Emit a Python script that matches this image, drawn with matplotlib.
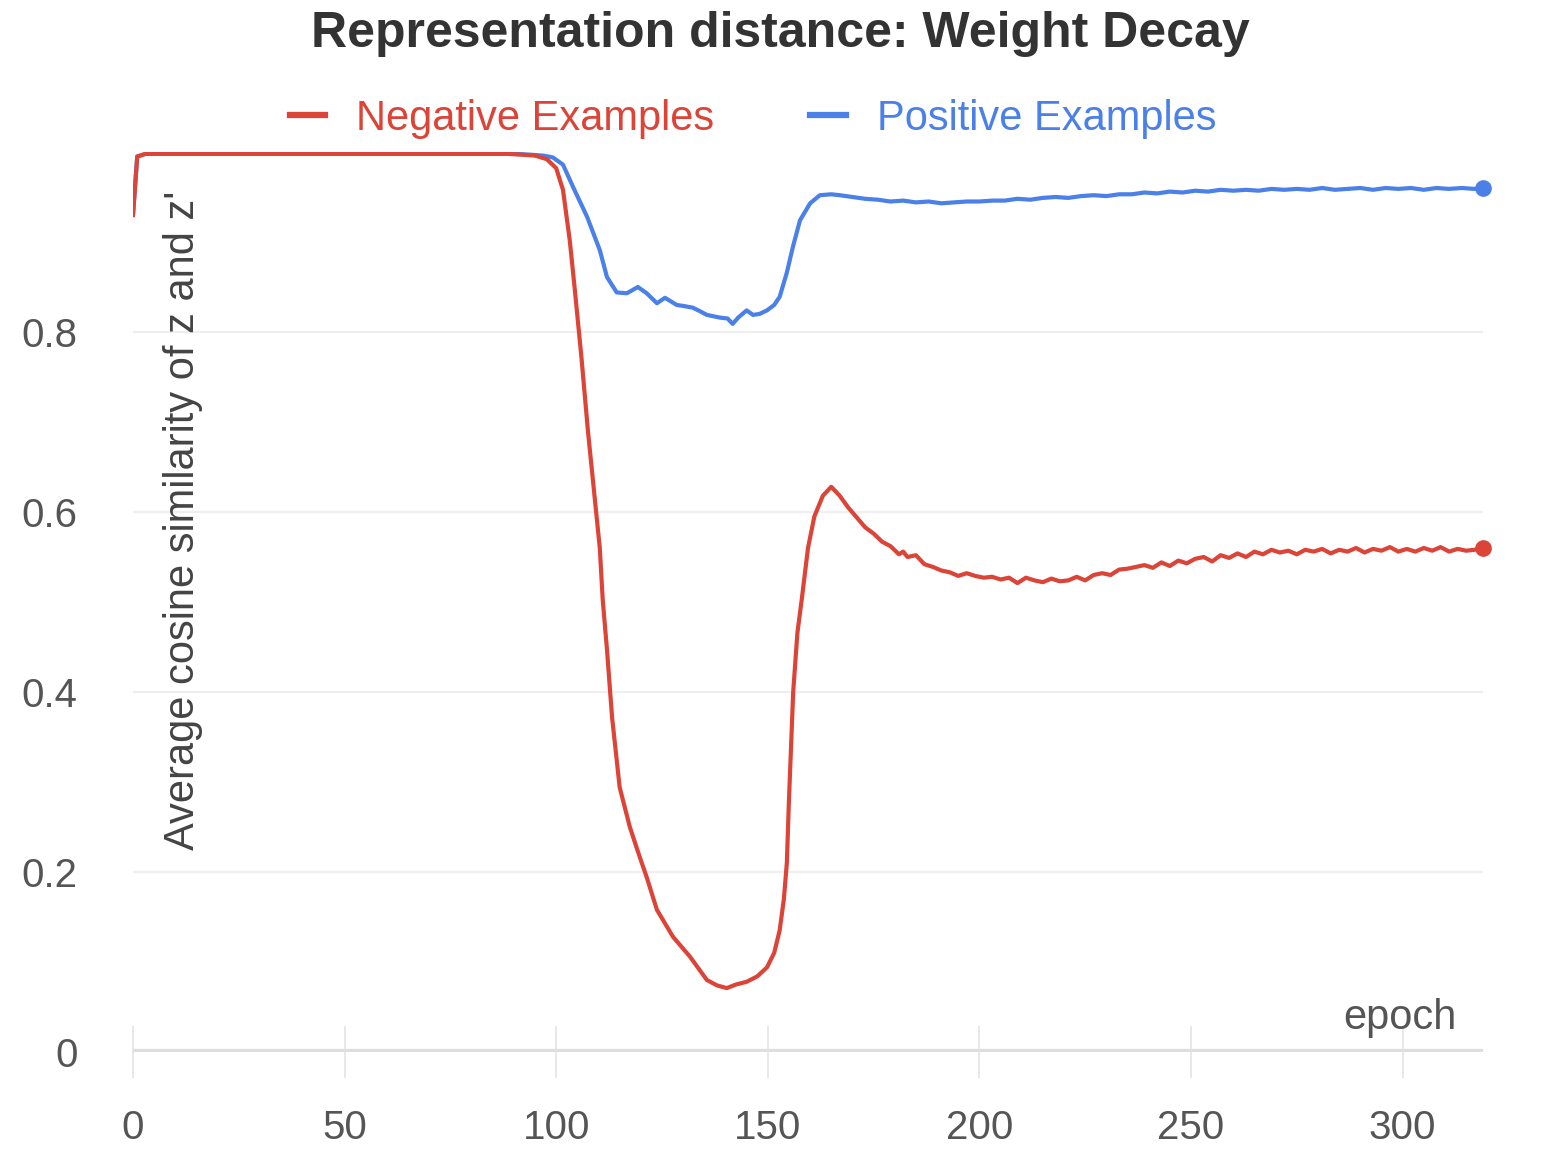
import numpy as np
import matplotlib
matplotlib.use('Agg')
import matplotlib.pyplot as plt

# values
neg_epoch = [0, 1, 3, 10, 20, 30, 40, 50, 60, 70, 80, 88, 92, 95, 97.8, 100,
             101.6, 103.2, 104.4, 106, 107.5, 109, 110.3, 111, 112, 113.2, 115,
             117.4, 119.5, 121.4, 123.8, 127.6, 131.6, 135.6, 138, 140.3, 142.5,
             145, 147.5, 149.8, 151.5, 152.8, 153.8, 154.5, 155, 155.5, 156, 157,
             158, 159.5, 161, 163, 165, 167, 169, 171, 173, 175, 177, 179, 181,
             182, 183, 185, 187, 189, 191, 193, 195, 197, 199, 201, 203, 205, 207,
             209, 211, 213, 215, 217, 219, 221, 223, 225, 227, 229, 231, 233, 235,
             237, 239, 241, 243, 245, 247, 249, 251, 253, 255, 257, 259, 261, 263,
             265, 267, 269, 271, 273, 275, 277, 279, 281, 283, 285, 287, 289, 291,
             293, 295, 297, 299, 301, 303, 305, 307, 309, 311, 313, 315, 317, 319]
neg_value = [0.93, 0.995, 0.998, 0.998, 0.998, 0.998, 0.998, 0.998, 0.998, 0.998,
             0.998, 0.998, 0.997, 0.996, 0.992, 0.982, 0.958, 0.902, 0.847, 0.77,
             0.69, 0.62, 0.56, 0.502, 0.447, 0.372, 0.294, 0.25, 0.22, 0.194,
             0.158, 0.128, 0.106, 0.08, 0.074, 0.071, 0.075, 0.078, 0.084, 0.094,
             0.11, 0.135, 0.17, 0.21, 0.28, 0.34, 0.40, 0.466, 0.502, 0.56, 0.595,
             0.618, 0.628, 0.618, 0.605, 0.594, 0.583, 0.576, 0.567, 0.562, 0.553,
             0.556, 0.55, 0.552, 0.542, 0.539, 0.535, 0.533, 0.529, 0.532, 0.529,
             0.527, 0.528, 0.525, 0.527, 0.521, 0.527, 0.524, 0.522, 0.526, 0.523,
             0.524, 0.528, 0.524, 0.53, 0.532, 0.53, 0.536, 0.537, 0.539, 0.541,
             0.538, 0.544, 0.54, 0.546, 0.543, 0.548, 0.55, 0.545, 0.552, 0.549,
             0.554, 0.55, 0.556, 0.553, 0.558, 0.555, 0.557, 0.553, 0.558, 0.556,
             0.559, 0.554, 0.558, 0.556, 0.56, 0.555, 0.559, 0.557, 0.561, 0.556,
             0.559, 0.556, 0.56, 0.557, 0.561, 0.556, 0.559, 0.557, 0.558, 0.56]

pos_epoch = [0, 1, 3, 10, 20, 30, 40, 50, 60, 70, 80, 90, 94, 97, 99.2, 101.6,
             104, 107.3, 110.3, 112, 114.3, 116.7, 119.3, 121.4, 123.8, 125.7,
             128.5, 130, 132.3, 134, 135.6, 138.7, 140.5, 141.7, 143, 145, 146.5,
             148, 149.8, 151.5, 152.8, 154.5, 155.9, 157.6, 160, 162.3, 165, 167,
             170, 173, 176, 179, 182, 185, 188, 191, 194, 197, 200, 203, 206, 209,
             212, 215, 218, 221, 224, 227, 230, 233, 236, 239, 242, 245, 248, 251,
             254, 257, 260, 263, 266, 269, 272, 275, 278, 281, 284, 287, 290, 293,
             296, 299, 302, 305, 308, 311, 314, 317, 319]
pos_value = [0.93, 0.995, 0.998, 0.998, 0.998, 0.998, 0.998, 0.998, 0.998, 0.998,
             0.998, 0.998, 0.997, 0.996, 0.994, 0.986, 0.961, 0.928, 0.891, 0.861,
             0.844, 0.843, 0.85, 0.843, 0.832, 0.838, 0.83, 0.829, 0.827, 0.823,
             0.819, 0.816, 0.815, 0.809, 0.816, 0.824, 0.819, 0.82, 0.824, 0.83,
             0.839, 0.866, 0.894, 0.924, 0.943, 0.952, 0.953, 0.952, 0.95, 0.948,
             0.947, 0.945, 0.946, 0.944, 0.945, 0.943, 0.944, 0.945, 0.945, 0.946,
             0.946, 0.948, 0.947, 0.949, 0.95, 0.949, 0.951, 0.952, 0.951, 0.953,
             0.953, 0.955, 0.954, 0.956, 0.955, 0.957, 0.956, 0.958, 0.957, 0.958,
             0.957, 0.959, 0.958, 0.959, 0.958, 0.96, 0.958, 0.959, 0.96, 0.958,
             0.96, 0.959, 0.96, 0.958, 0.96, 0.959, 0.96, 0.959, 0.96]

x_ticks = [0, 50, 100, 150, 200, 250, 300]
y_ticks = [0, 0.2, 0.4, 0.6, 0.8]
y_tick_labels = ['0', '0.2', '0.4', '0.6', '0.8']

red = '#db4437'
blue = '#4a80e8'

plt.rcParams.update({
    'font.family': ['Liberation Sans', 'DejaVu Sans'],
    'font.size': 29,
})

fig = plt.figure(figsize=(15.6, 11.66), dpi=100)
ax = fig.add_axes([133/1560, 1 - 1052/1166, 1350/1560, 900/1166])

for s in ax.spines.values():
    s.set_visible(False)

# light grid and a heavier baseline at zero
for v in y_ticks[1:]:
    ax.axhline(v, color='#efefef', linewidth=1.6, zorder=0)
ax.axhline(0, color='#dedede', linewidth=4.5, zorder=1)

pos_line, = ax.plot(pos_epoch, pos_value, color=blue, linewidth=3.0,
                    label='Positive Examples', zorder=3)
neg_line, = ax.plot(neg_epoch, neg_value, color=red, linewidth=3.0,
                    label='Negative Examples', zorder=4)
ax.plot(pos_epoch[-1], pos_value[-1], 'o', color=blue, markersize=11,
        zorder=5, clip_on=False)
ax.plot(neg_epoch[-1], neg_value[-1], 'o', color=red, markersize=11,
        zorder=5, clip_on=False)

ax.set_xlim(0, 319)
ax.set_ylim(0, 1.0)
ax.set_xticks(x_ticks)
ax.set_yticks(y_ticks)
ax.set_yticklabels(y_tick_labels)
ax.tick_params(axis='x', direction='inout', length=38, width=1.2,
               color='#e4e4e4', pad=22, labelcolor='#555555', labelsize=29)
ax.tick_params(axis='y', length=0, pad=40, labelcolor='#555555', labelsize=29)

ax.set_ylabel("Average cosine similarity of z and z'", color='#444444',
              fontsize=30)
ax.yaxis.set_label_coords(50/1350, (1052 - 520)/900)
ax.yaxis.label.set_va('center')

ax.set_xlabel('epoch', color='#555555', fontsize=30)
ax.xaxis.set_label_coords((1400 - 133)/1350, 34/900)
ax.xaxis.label.set_va('center')

fig.text(0.5, 1 - 34/1166, 'Representation distance: Weight Decay',
         ha='center', va='center', fontsize=36, fontweight='bold',
         color='#333333')

leg = fig.legend(handles=[neg_line, pos_line], loc='center',
                 bbox_to_anchor=(753/1560, 1 - 119/1166), ncol=2,
                 frameon=False, fontsize=30, handlelength=0.85,
                 handletextpad=0.75, columnspacing=2.3,
                 labelcolor='linecolor')
for h in leg.legend_handles:
    h.set_linewidth(4.5)

fig.savefig('out.png', dpi=100, facecolor='white')
